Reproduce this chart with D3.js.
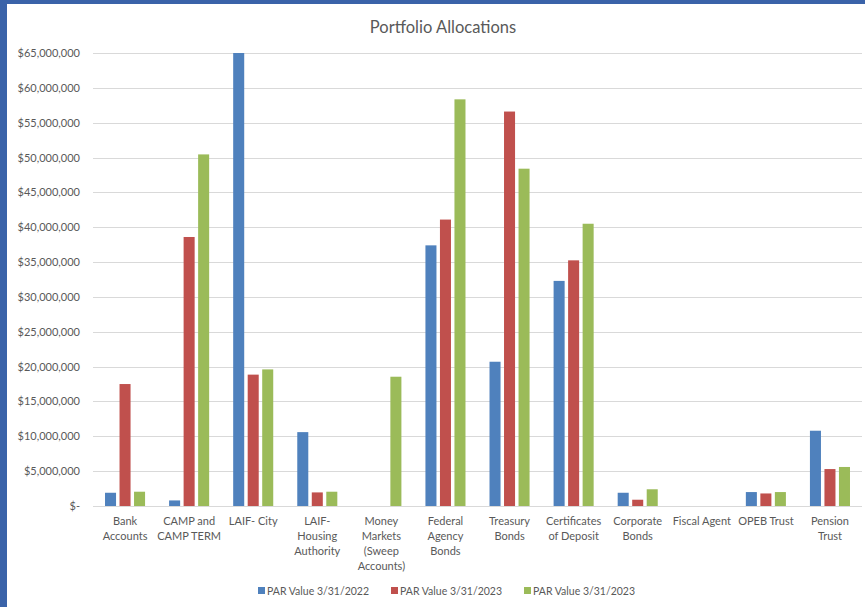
<!DOCTYPE html>
<html>
<head>
<meta charset="utf-8">
<script src="https://cdn.jsdelivr.net/npm/d3@7"></script>
<style>
  html, body { margin: 0; padding: 0; background: #ffffff; }
  svg { display: block; }
  text { font-family: Lato, "Open Sans", "Liberation Sans", sans-serif; }
</style>
</head>
<body>
<script>
const categories = [
  "Bank\nAccounts",
  "CAMP and\nCAMP TERM",
  "LAIF- City",
  "LAIF-\nHousing\nAuthority",
  "Money\nMarkets\n(Sweep\nAccounts)",
  "Federal\nAgency\nBonds",
  "Treasury\nBonds",
  "Certificates\nof Deposit",
  "Corporate\nBonds",
  "Fiscal Agent",
  "OPEB Trust",
  "Pension\nTrust"
];
const seriesNames = ["PAR Value 3/31/2022", "PAR Value 3/31/2023", "PAR Value 3/31/2023"];
const par2022 = [1900000, 800000, 65000000, 10600000, 0, 37400000, 20700000, 32300000, 1900000, 0, 2000000, 10800000];
const par2023a = [17500000, 38600000, 18850000, 1950000, 0, 41100000, 56600000, 35250000, 900000, 0, 1800000, 5300000];
const par2023b = [2050000, 50450000, 19600000, 2050000, 18550000, 58350000, 48400000, 40500000, 2400000, 0, 2000000, 5600000];
const yTicks = [0, 5000000, 10000000, 15000000, 20000000, 25000000, 30000000, 35000000, 40000000, 45000000, 50000000, 55000000, 60000000, 65000000];
const title = "Portfolio Allocations";

const colors = ["#4f81bd", "#c0504d", "#9bbb59"];
const W = 865, H = 607;
const M = { left: 93, right: 862, top: 53, bottom: 506 };

const svg = d3.select("body").append("svg").attr("width", W).attr("height", H);

// frame
svg.append("rect").attr("x", 0).attr("y", 0).attr("width", W).attr("height", H).attr("fill", "#ffffff");
svg.append("rect").attr("x", 0).attr("y", 0).attr("width", 7).attr("height", H).attr("fill", "#3a63a9");
svg.append("rect").attr("x", 0).attr("y", 0).attr("width", W).attr("height", 4).attr("fill", "#3a63a9");

const x = d3.scaleBand().domain(d3.range(categories.length)).range([M.left, M.right]).paddingInner(0.375).paddingOuter(0.1875);
const series = [par2022, par2023a, par2023b];
const xs = d3.scaleBand().domain(d3.range(series.length)).range([0, x.bandwidth()]).paddingInner(0.24);
const y = d3.scaleLinear().domain([0, 65000000]).range([M.bottom, M.top]);

// gridlines
svg.append("g").selectAll("line").data(yTicks).join("line")
  .attr("x1", M.left).attr("x2", M.right)
  .attr("y1", d => Math.round(y(d)) + 0.5).attr("y2", d => Math.round(y(d)) + 0.5)
  .attr("stroke", "#d9d9d9").attr("stroke-width", 1);

// y axis labels
const fmt = d => d === 0 ? "$-" : "$" + d3.format(",")(d);
const yAxis = d3.axisLeft(y).tickValues(yTicks).tickFormat(fmt).tickSize(0).tickPadding(13);
const gy = svg.append("g").attr("transform", `translate(${M.left},0)`).call(yAxis);
gy.select(".domain").remove();
gy.selectAll("text").attr("fill", "#595959").attr("font-size", 11);

// bars
series.forEach((vals, si) => {
  svg.append("g").selectAll("rect").data(vals).join("rect")
    .attr("x", (d, i) => x(i) + xs(si))
    .attr("width", xs.bandwidth())
    .attr("y", d => y(d))
    .attr("height", d => y(0) - y(d))
    .attr("fill", colors[si]);
});

// category labels
const gx = svg.append("g");
categories.forEach((c, i) => {
  const cx = x(i) + x.bandwidth() / 2;
  const t = gx.append("text")
    .attr("x", cx)
    .attr("y", 525)
    .attr("text-anchor", "middle")
    .attr("fill", "#595959")
    .attr("font-size", 11);
  c.split("\n").forEach((line, li) => {
    t.append("tspan").attr("x", cx).attr("dy", li === 0 ? 0 : 15).text(line);
  });
});

// title
svg.append("text").attr("x", 443).attr("y", 33).attr("text-anchor", "middle")
  .attr("fill", "#595959").attr("font-size", 16.5).text(title);

// legend
const legX = [258, 391, 524];
const leg = svg.append("g");
seriesNames.forEach((n, i) => {
  leg.append("rect").attr("x", legX[i]).attr("y", 587).attr("width", 7).attr("height", 7).attr("fill", colors[i]);
  leg.append("text").attr("x", legX[i] + 9).attr("y", 595).attr("fill", "#595959").attr("font-size", 10.5).text(n);
});
</script>
</body>
</html>
